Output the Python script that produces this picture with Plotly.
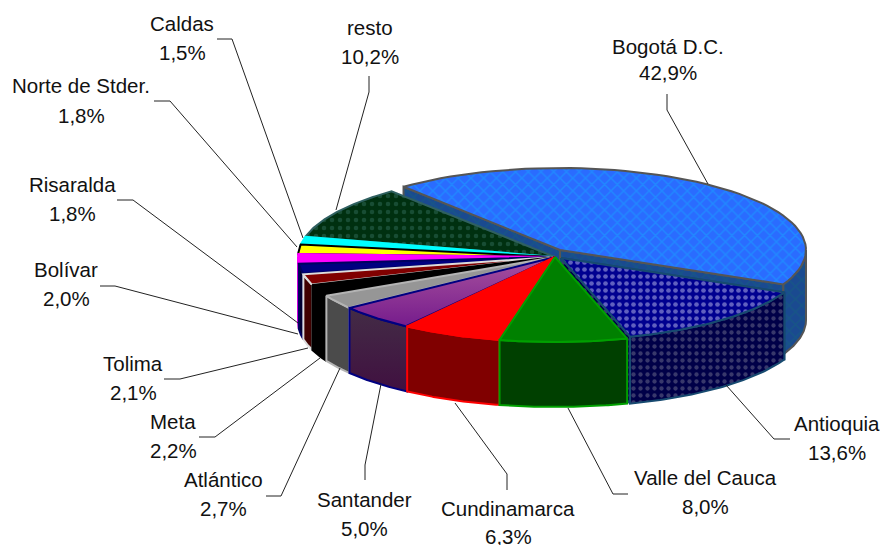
import numpy as np
import plotly.graph_objects as go

categories = ["Bogotá D.C.", "Antioquia", "Valle del Cauca", "Cundinamarca", "Santander", "Atlántico",
              "Meta", "Tolima", "Bolívar", "Risaralda", "Norte de Stder.", "Caldas", "resto"]
shares = [42.9, 13.6, 8.0, 6.3, 5.0, 2.7, 2.2, 2.1, 2.0, 1.8, 1.8, 1.5, 10.2]

# ---- styling and layout (not data) ----
START = -129.5
CX, CY, RX, RY, DEPTH = 555, 257, 257, 85, 65
top_col = ["#2a6cff", "#000090", "#008000", "#ff0000", "#96409a", "#969696", "#000000", "#800000",
           "#000080", "#ff00ff", "#ffff00", "#00ffff", "#003010"]
wall_col = ["#1a4a90", "#000048", "#004000", "#800000", "#412244", "#4b4b4b", "#000000", "#400000",
            "#000030", "#000000", "#000000", "#000000", "#001808"]
edge_col = ["#555555", "#174a70", "#00a000", "#ff0000", "#000080", "#b4b4b4", "#000000", "#dddddd",
            "#000060", "#ff00ff", "#000000", "#00ffff", "#2f6060"]
offset = {0: (5, -7, 246, 82, 70), 1: (6, 1, 246, 82, 67)}
top_pat = {0: dict(shape="x", size=9, solidity=0.3, fgcolor="#18a4ff", bgcolor="#2a6cff"),
           1: dict(shape=".", size=7, solidity=0.35, fgcolor="#c0c0ee", bgcolor="#000090"),
           12: dict(shape=".", size=8, solidity=0.25, fgcolor="#2f6a58", bgcolor="#003010")}
wall_pat = {0: dict(shape="x", size=9, solidity=0.3, fgcolor="#14607e", bgcolor="#1a4a90"),
            1: dict(shape=".", size=7, solidity=0.3, fgcolor="#70708e", bgcolor="#000048"),
            }
label_pos = [(668, 46, 72), (837, 423, 452), (705, 477, 506), (508, 508, 536), (364, 499, 528),
             (223, 479, 508), (173, 421, 450), (133, 363, 392), (66, 269, 298), (72, 184, 213),
             (81, 85, 115), (182, 23, 52), (370, 27, 56)]
leaders = [[(667, 94), (667, 110), (708, 184)], [(790, 439), (774, 439), (726, 385)],
           [(628, 494), (613, 494), (568, 408)], [(507, 490), (507, 474), (455, 403)],
           [(365, 480), (365, 465), (381, 384)], [(266, 496), (281, 496), (340, 368)],
           [(199, 437), (215, 437), (320, 358)], [(164, 379), (180, 379), (308, 348)],
           [(100, 286), (115, 286), (298, 334)], [(117, 200), (133, 200), (298, 323)],
           [(154, 101), (170, 101), (297, 247)], [(217, 39), (232, 39), (303, 238)],
           [(369, 76), (369, 92), (336, 210)]]

total = sum(shares)
edges = START + np.cumsum([0] + [s / total * 360 for s in shares])


def geom(i):
    dx, dy, a, b, d = offset.get(i, (0, 0, RX, RY, DEPTH))
    return CX + dx, CY + dy, a, b, d


def rim(i, t0, t1):
    cx, cy, a, b, _ = geom(i)
    t = np.radians(np.linspace(t0, t1, 60))
    return cx + a * np.cos(t), cy + b * np.sin(t)


fig = go.Figure()


def poly(x, y, fill, edge, width=2, pattern=None, gradient=None):
    kw = dict(x=list(x) + [x[0]], y=list(y) + [y[0]], mode="lines", fill="toself", fillcolor=fill,
              line=dict(color=edge, width=width), hoverinfo="skip", showlegend=False)
    if pattern:
        kw["fillpattern"] = pattern
    if gradient:
        kw["fillgradient"] = gradient
    fig.add_trace(go.Scatter(**kw))


def draw(i):
    a0, a1 = edges[i], edges[i + 1]
    cx, cy, _, _, d = geom(i)
    wp = wall_pat.get(i)
    wg = None
    tg = None
    if i == 4:
        wg = dict(type="vertical", colorscale=[[0, "#401040"], [1, "#432c46"]])
        tg = dict(type="vertical", colorscale=[[0, "#761c8c"], [1, "#a8529e"]])
    # side cut faces
    if i in (0, 1):
        for ang in (a0, a1):
            rx, ry = rim(i, ang, ang)
            poly([cx, rx[0], rx[0], cx], [cy, ry[0], ry[0] + d, cy + d], wall_col[i], edge_col[i], 2, wp)
    # outer wall
    w0, w1 = max(a0, 0), min(a1, 180)
    if w1 > w0:
        rx, ry = rim(i, w0, w1)
        poly(np.r_[rx, rx[::-1]], np.r_[ry, ry[::-1] + d], wall_col[i], edge_col[i], 2, wp, wg)
    # top
    rx, ry = rim(i, a0, a1)
    poly(np.r_[cx, rx], np.r_[cy, ry], top_col[i], edge_col[i], 2, top_pat.get(i), tg)


# Bogotá at the back, then the pulled-out Antioquia, then round from the back-left to the front
for i in [0, 1, 12, 11, 10, 9, 8, 7, 6, 5, 4, 3, 2]:
    draw(i)

for pts in leaders:
    xs, ys = zip(*pts)
    fig.add_trace(go.Scatter(x=xs, y=ys, mode="lines", line=dict(color="#222222", width=1),
                             hoverinfo="skip", showlegend=False))

ann = []
for name, val, (x, y1, y2) in zip(categories, shares, label_pos):
    for txt, y in ((name, y1), (f"{val:.1f}%".replace(".", ","), y2)):
        ann.append(dict(x=x, y=y, xref="x", yref="y", text=txt, showarrow=False, xanchor="center",
                        yanchor="middle", font=dict(family="Liberation Sans", size=20.5, color="#111111")))

fig.update_layout(width=884, height=545, margin=dict(l=0, r=0, t=0, b=0), paper_bgcolor="white",
                  plot_bgcolor="white", showlegend=False, annotations=ann,
                  xaxis=dict(range=[0, 884], visible=False, fixedrange=True),
                  yaxis=dict(range=[545, 0], visible=False, fixedrange=True))
fig.write_html("out.html", config=dict(displayModeBar=False),
               post_script="document.body.style.margin='0';document.body.style.overflow='hidden';")
